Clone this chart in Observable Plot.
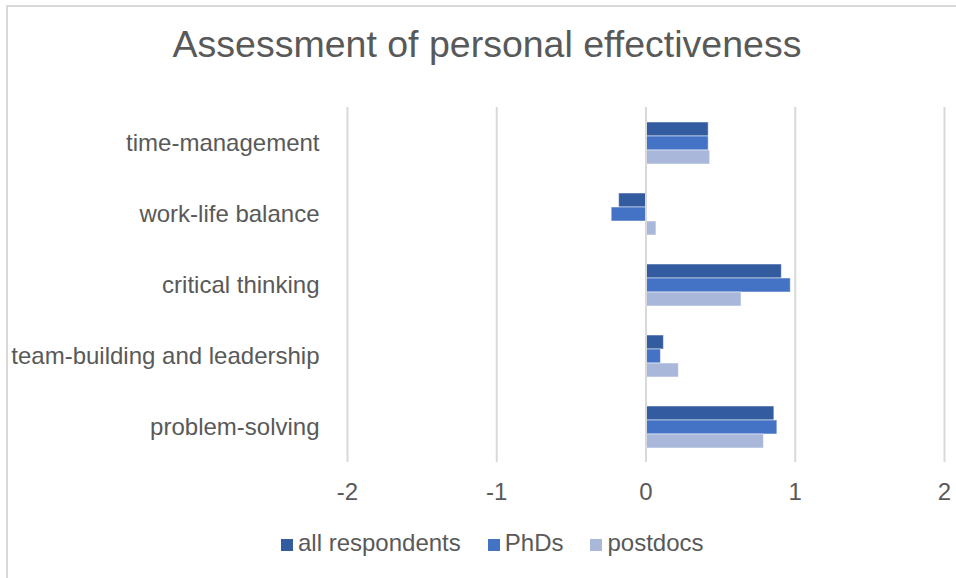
<!DOCTYPE html>
<html>
<head>
<meta charset="utf-8">
<script src="https://cdn.jsdelivr.net/npm/d3@7"></script>
<script src="https://cdn.jsdelivr.net/npm/@observablehq/plot@0.6"></script>
<style>
  html, body { margin: 0; padding: 0; background: white; }
  #wrap { position: relative; width: 956px; height: 578px; overflow: hidden; font-family: "Liberation Sans", Arial, sans-serif; color: #595959; }
  #frame { position: absolute; left: 6px; top: 5px; width: 1000px; height: 1000px; border: 2px solid #d9d9d9; box-sizing: border-box; }
  #title { position: absolute; left: 0; top: 26px; width: 974px; text-align: center; font-size: 37.5px; line-height: 37.5px; white-space: nowrap; }
  #chart { position: absolute; left: 0; top: 0; }
  #legend { position: absolute; left: 281px; top: 531px; font-size: 24px; line-height: 24px; white-space: nowrap; }
  .item { display: inline-block; margin-right: 27px; }
  .sw { display: inline-block; width: 12px; height: 12px; margin-right: 5px; vertical-align: baseline; }
</style>
</head>
<body>
<div id="wrap">
  <div id="frame"></div>
  <div id="chart"></div>
  <div id="title">Assessment of personal effectiveness</div>
  <div id="legend"></div>
</div>
<script>
const categories = ["time-management", "work-life balance", "critical thinking", "team-building and leadership", "problem-solving"];
const series = ["all respondents", "PhDs", "postdocs"];
const allRespondents = [0.42, -0.18, 0.91, 0.12, 0.86];
const phds = [0.42, -0.23, 0.97, 0.10, 0.88];
const postdocs = [0.43, 0.07, 0.64, 0.22, 0.79];
const colors = ["#335B9F", "#4472C4", "#A9B7DB"];
const xTicks = [-2, -1, 0, 1, 2];

const seriesValues = [allRespondents, phds, postdocs];
const data = categories.flatMap((c, i) =>
  series.map((s, j) => ({category: c, series: s, value: seriesValues[j][i]}))
);

const chart = Plot.plot({
  width: 956,
  height: 520,
  marginTop: 107,
  marginBottom: 58,
  marginLeft: 347,
  marginRight: 12,
  style: {fontSize: "24px", fontFamily: "'Liberation Sans', Arial, sans-serif", color: "#595959", background: "transparent", overflow: "visible"},
  x: {domain: [-2, 2], ticks: xTicks, tickFormat: d => String(d), tickSize: 0, tickPadding: 20, label: null},
  y: {domain: series, axis: null, paddingInner: 0, paddingOuter: 0.95},
  fy: {domain: categories, padding: 0, label: null, tickSize: 0, tickPadding: 28, axis: "left"},
  color: {domain: series, range: colors},
  marks: [
    Plot.barX(data, {fy: "category", y: "series", x: "value", fill: "series", stroke: "white", strokeOpacity: 0.5, strokeWidth: 1}),
    Plot.ruleX(xTicks, {stroke: "#d9d9d9", strokeWidth: 2})
  ]
});
document.getElementById("chart").appendChild(chart);

const legend = document.getElementById("legend");
series.forEach((s, i) => {
  const item = document.createElement("span");
  item.className = "item";
  const sw = document.createElement("span");
  sw.className = "sw";
  sw.style.background = colors[i];
  item.appendChild(sw);
  item.appendChild(document.createTextNode(s));
  legend.appendChild(item);
});
</script>
</body>
</html>
